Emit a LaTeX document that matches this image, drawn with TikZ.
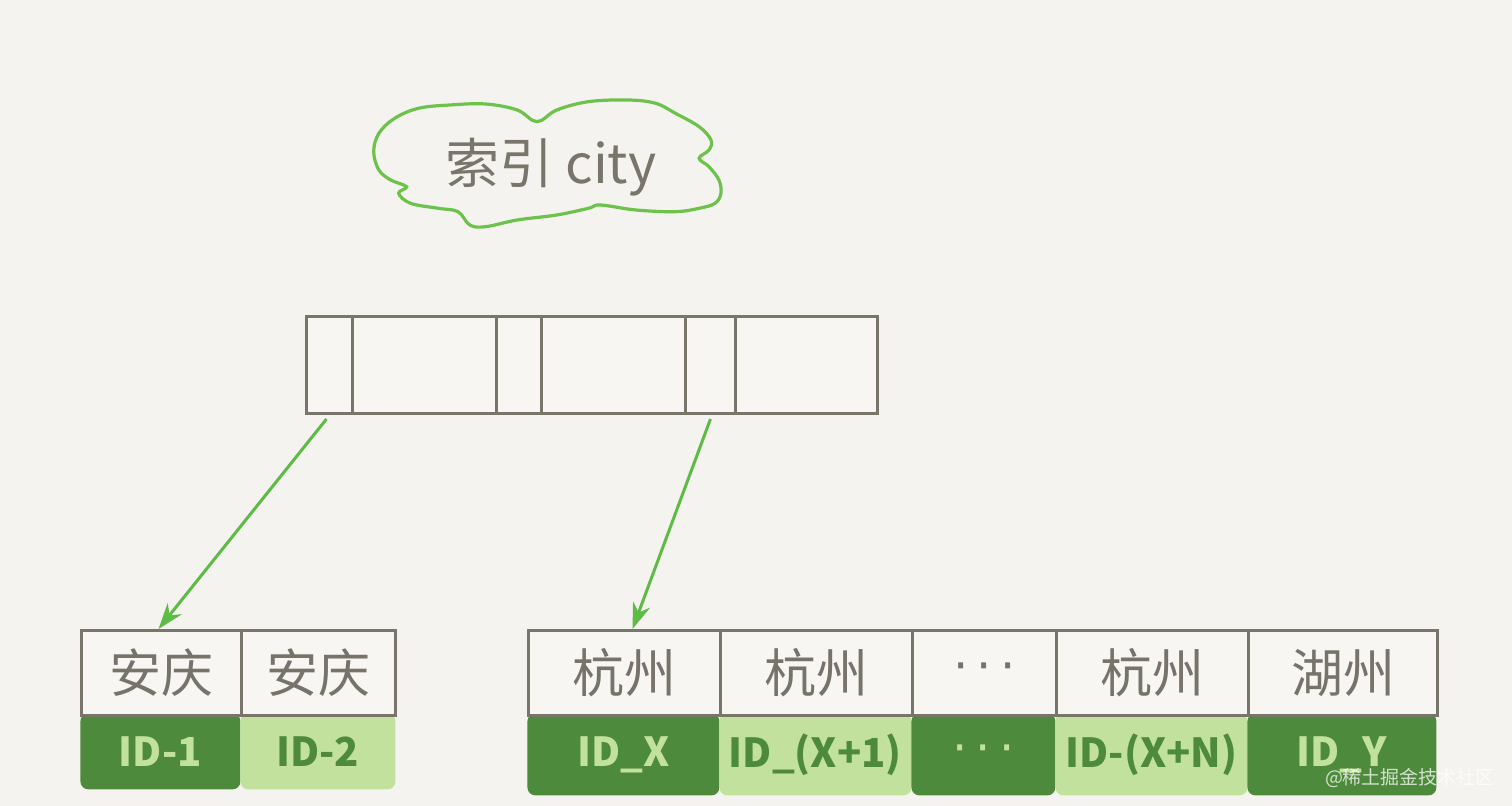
\documentclass[tikz,border=0pt]{standalone}
\usepackage{fontspec}
\setmainfont{Noto Sans CJK SC}
\newfontfamily\dotfont{DejaVu Sans}
\usetikzlibrary{arrows.meta}
\definecolor{bg}{HTML}{F4F3EF}
\definecolor{ln}{HTML}{7A756B}
\definecolor{cl}{HTML}{6CC24A}
\definecolor{ar}{HTML}{5DBB46}
\definecolor{dg}{HTML}{4E8A3B}
\definecolor{lg}{HTML}{C2E19C}
\definecolor{tx}{HTML}{77736A}
\definecolor{cellbg}{HTML}{F7F6F3}
\begin{document}
\begin{tikzpicture}[x=0.5pt,y=-0.5pt,
  cellbox/.style={draw=ln, line width=1.5pt, fill=cellbg, inner sep=0pt, anchor=north west,
    text=tx, font=\fontsize{26}{30}\selectfont},
  keycell/.style={cellbox, minimum height=48.5pt},
  rowcell/.style={cellbox, minimum height=42.5pt},
  idcell/.style={inner sep=0pt, anchor=north west, rounded corners=4pt,
    font=\bfseries\fontsize{20}{24}\selectfont},
  darkid/.style={idcell, fill=dg, text=lg},
  lightid/.style={idcell, fill=lg, text=dg},
  arw/.style={draw=ar, line width=1.5pt, -{Stealth[length=13pt,width=9pt]}},
  dots/.style={font=\dotfont\fontsize{24}{26}\selectfont},
]
\fill[bg] (0,0) rectangle (1512,806);
\useasboundingbox (0,0) rectangle (1512,806);

% cloud
\draw[cl, line width=1.6pt, fill=bg] plot[smooth cycle, tension=0.6] coordinates {
 (373.7,151.7) (378.9,133.3) (394.7,118.3) (418.4,108.3) (450,105) (485.6,104)
 (517.2,110) (537,121.7) (556.8,110) (588.4,101.7) (628,100) (655.6,103.3)
 (675.4,113.3) (699.1,126.7) (711,140) (709,150) (699.1,158.3) (709,166.7)
 (718.9,180) (720.9,193.3) (715,203.3) (699.1,208.3) (675.4,211.7) (635.9,210)
 (600.3,205) (588.4,208.3) (556.8,215) (517.2,220) (485.6,226.7) (469.8,225)
 (458,211.7) (438.2,208.3) (410.5,203.3) (398.6,193.3) (406.5,186.7) (390.7,180)
 (378.9,170)};
\node[text=ln, font=\fontsize{27}{30}\selectfont] (title) at (551,167) {索引 city};

% top index page
\node[keycell, minimum width=23pt] (p1) at (305,315) {};
\node[keycell, minimum width=72pt] (k1) at (351,315) {};
\node[keycell, minimum width=22.5pt] (p2) at (495,315) {};
\node[keycell, minimum width=72pt] (k2) at (540,315) {};
\node[keycell, minimum width=25pt] (p3) at (684,315) {};
\node[keycell, minimum width=71pt] (k3) at (734,315) {};

% left leaf: ids
\node[darkid, minimum width=80pt, minimum height=38pt] (i1) at (80,713) {ID-1};
\node[lightid, minimum width=77.5pt, minimum height=38pt] (i2) at (240,713) {ID-2};
% left leaf: keys
\node[rowcell, minimum width=80pt] (a1) at (80,629) {安庆};
\node[rowcell, minimum width=77pt] (a2) at (240,629) {安庆};

% right leaf: ids
\node[darkid, minimum width=96pt, minimum height=41pt] (j1) at (527,713) {ID\_X};
\node[lightid, minimum width=96pt, minimum height=41pt] (j2) at (719,713) {ID\_(X+1)};
\node[darkid, minimum width=72pt, minimum height=41pt, dots] (j3) at (911,713) {·\,·\,·};
\node[lightid, minimum width=96pt, minimum height=41pt] (j4) at (1055,713) {ID-(X+N)};
\node[darkid, minimum width=94.5pt, minimum height=41pt, text depth=3pt] (j5) at (1247,713) {ID\_Y};
% right leaf: keys
\node[rowcell, minimum width=96pt] (h1) at (527,629) {杭州};
\node[rowcell, minimum width=96pt] (h2) at (719,629) {杭州};
\node[rowcell, minimum width=72pt, dots] (h3) at (911,629) {·\,·\,·};
\node[rowcell, minimum width=96pt] (h4) at (1055,629) {杭州};
\node[rowcell, minimum width=94.5pt] (h5) at (1247,629) {湖州};

% pointers
\draw[arw] ([xshift=-1.5pt,yshift=-2pt]p1.south) -- ([xshift=-1.5pt]a1.north);
\draw[arw] ([yshift=-2pt]p3.south) -- ([xshift=4pt]h1.north);

% watermark
\node[text=white, opacity=0.75, font=\fontsize{9.5}{11}\selectfont] (wm) at (1410,778) {@稀土掘金技术社区};
\end{tikzpicture}
\end{document}
